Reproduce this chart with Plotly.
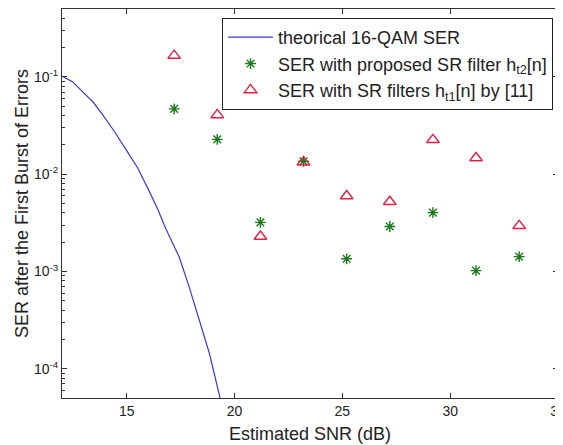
import plotly.graph_objects as go

# theoretical 16-QAM SER curve
snr_teorico = [12.0, 12.5, 12.96, 13.43, 13.89, 14.43, 14.97, 15.51, 15.97,
               16.44, 16.82, 17.44, 17.9, 18.36, 18.83, 19.34]
ser_teorico = [0.102, 0.0889, 0.0703, 0.0556, 0.0407, 0.0275, 0.0179, 0.0116,
               0.00724, 0.00437, 0.00273, 0.0014, 6.9e-4, 3.16e-4, 1.45e-4, 4.9e-5]

# estimated SNR of each measurement
snr_estimado = [17.2, 19.2, 21.2, 23.2, 25.2, 27.2, 29.2, 31.2, 33.2]
ser_proposto = [0.047, 0.0228, 0.0032, 0.0136, 0.00135, 0.0029, 0.00403, 0.00102, 0.00142]
ser_ref11 = [0.166, 0.0407, 0.00229, 0.0133, 0.00597, 0.00521, 0.0226, 0.0147, 0.00295]

y_ticks = [1e-4, 1e-3, 1e-2, 1e-1]
y_tick_labels = ["10<sup>-4</sup>", "10<sup>-3</sup>", "10<sup>-2</sup>", "10<sup>-1</sup>"]
x_ticks = [15, 20, 25, 30, 35]

minor_y = [k * 10.0 ** e for e in range(-5, 0) for k in range(2, 10)]

fonte = dict(family="Liberation Sans, Arial, sans-serif", color="#222222")

fig = go.Figure()
fig.add_trace(go.Scatter(
    x=snr_teorico, y=ser_teorico, mode="lines",
    line=dict(color="#3a3acc", width=1.2),
    name="theorical 16-QAM SER", legendgroup="a",
))
fig.add_trace(go.Scatter(
    x=snr_estimado, y=ser_proposto, mode="markers",
    marker=dict(symbol="asterisk-open", size=9, color="#1a7a1a",
                line=dict(color="#1a7a1a", width=1.4)),
    name="SER with proposed SR filter h<sub>t2</sub>[n]", legendgroup="b",
))
fig.add_trace(go.Scatter(
    x=snr_estimado, y=ser_ref11, mode="markers",
    marker=dict(symbol="triangle-up-open", size=11, color="#dd2244",
                line=dict(color="#dd2244", width=1.4)),
    name="SER with SR filters h<sub>t1</sub>[n] by [11]", legendgroup="c",
))

eixo = dict(showline=True, linecolor="#333333", linewidth=1, mirror="ticks",
            ticks="inside", ticklen=5, tickcolor="#333333", showgrid=False,
            zeroline=False, automargin=False, ticklabeloverflow="allow")

fig.update_xaxes(range=[12, 35], tickvals=x_ticks,
                 tickfont=dict(size=14, **fonte),
                 title=dict(text="Estimated SNR (dB)", font=dict(size=18, **fonte), standoff=9),
                 **eixo)
fig.update_yaxes(type="log", range=[-4.301, -0.301], tickvals=y_ticks,
                 ticktext=y_tick_labels, tickfont=dict(size=14, **fonte),
                 minor=dict(tickvals=minor_y, ticks="inside", ticklen=3, tickcolor="#333333"),
                 title=dict(text="SER after the First Burst of Errors",
                            font=dict(size=18, **fonte), standoff=0),
                 **eixo)

# the page body adds an 8 px offset, so margins are shifted by that amount
fig.update_layout(
    width=563, height=445,
    margin=dict(l=54, r=13, t=1, b=55),
    paper_bgcolor="white", plot_bgcolor="white",
    font=fonte,
    legend=dict(x=0.99, y=0.977, xanchor="right", yanchor="top",
                bgcolor="white", bordercolor="#222222", borderwidth=1,
                tracegroupgap=0, traceorder="grouped", itemwidth=45,
                font=dict(size=18, **fonte)),
)

fig.write_html("out.html")
